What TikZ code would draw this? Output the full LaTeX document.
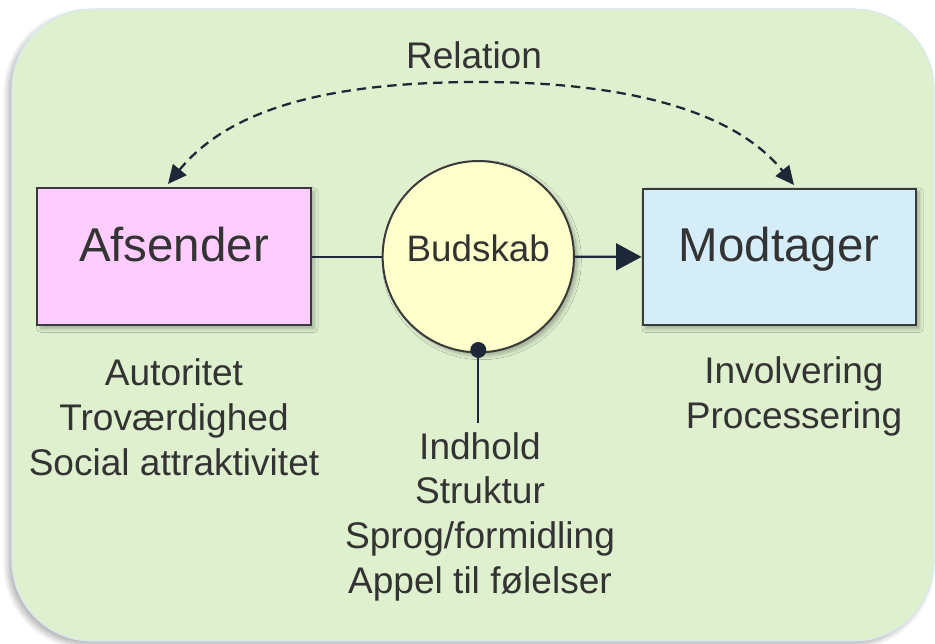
\documentclass[tikz,border=0pt]{standalone}
\usepackage{fontspec}
\setmainfont{Liberation Sans}
\usetikzlibrary{arrows.meta,shadows.blur}
\definecolor{bgfill}{HTML}{DFF0CF}
\definecolor{bgline}{HTML}{D6E8F4}
\definecolor{txt}{HTML}{333333}
\definecolor{edge}{HTML}{3A3A3A}
\definecolor{conn}{HTML}{1C2838}
\definecolor{pinkfill}{HTML}{FFCCFF}
\definecolor{bluefill}{HTML}{D5ECF9}
\definecolor{yellowfill}{HTML}{FFFFCC}
\tikzset{
  shad/.style={blur shadow={shadow blur steps=6, shadow xshift=2.5pt, shadow yshift=-2.5pt, shadow opacity=30, shadow blur radius=3pt}},
  bigbox/.style={draw=edge, line width=1.5pt, minimum width=205pt, minimum height=102.5pt, inner sep=0pt,
    font=\fontsize{35.6}{40}\selectfont, text=txt, text height=0.72em, text depth=0pt, shad},
  msgcircle/.style={circle, draw=edge, line width=1.5pt, fill=yellowfill, minimum size=143.5pt, inner sep=0pt,
    font=\fontsize{27.6}{33}\selectfont, text=txt, text height=0.72em, text depth=0pt, shad},
  label/.style={font=\fontsize{27.8}{33.4}\selectfont, text=txt, align=center, inner sep=0pt, anchor=base},
  conline/.style={draw=conn, line width=1.7pt},
  dotst/.style={circle, fill=conn, minimum size=12pt, inner sep=0pt},
  relarrow/.style={draw=conn, line width=1.7pt, dash pattern=on 7pt off 4.5pt,
    {Triangle[length=14pt,width=13pt]}-{Triangle[length=14pt,width=13pt]}},
}
\begin{document}
\begin{tikzpicture}[x=0.75pt,y=-0.75pt]
\useasboundingbox (0,0) rectangle (935,643);
\fill[bgfill, draw=bgline, line width=0.8pt, rounded corners=60pt,
  blur shadow={shadow blur steps=8, shadow xshift=-3pt, shadow yshift=-3pt, shadow opacity=30, shadow blur radius=4pt}]
  (12,9) rectangle (934,641);

\node[label] (rel) at (474,68) {Relation};

\node[bigbox, fill=pinkfill] (afs) at (174,256.7) {Afsender};
\node[msgcircle] (bud) at (478.3,256.7) {Budskab};
\node[bigbox, fill=bluefill] (mod) at (779.2,256.9) {Modtager};

\coordinate (relL) at (168,184);
\coordinate (relR) at (794,185);
\coordinate (relTop) at (480,82);
\draw[relarrow] (relL) .. controls (230,108) and (330,82) .. (relTop)
  .. controls (630,82) and (735,112) .. (relR);

\draw[conline] (afs.east) -- (bud.west);
\draw[conline, -{Triangle[length=19pt,width=20pt]}] (bud.east) -- (mod.west);

\node[dotst] (dot) at (478.3,350) {};
\coordinate (dotend) at (478.3,423);
\draw[conline] (dot.center) -- (dotend);

\node[label] (afsattr) at (174,475) {Autoritet\\Troværdighed\\Social attraktivitet};
\node[label] (budattr) at (480,593) {Indhold\\Struktur\\Sprog/formidling\\Appel til følelser};
\node[label] (modattr) at (794,428) {Involvering\\Processering};
\end{tikzpicture}
\end{document}
